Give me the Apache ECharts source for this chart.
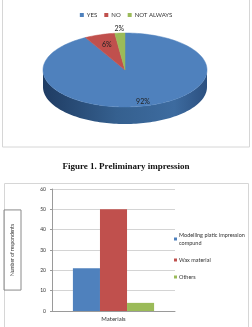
<!DOCTYPE html>
<html>
<head>
<meta charset="utf-8">
<script src="https://cdn.jsdelivr.net/npm/echarts@6/dist/echarts.min.js"></script>
<style>
html, body { margin: 0; padding: 0; background: #fff; }
#main { width: 252px; height: 327px; }
</style>
</head>
<body>
<div id="main"></div>
<script>
// pie: preliminary impression
var pieNames = ['YES', 'NO', 'NOT ALWAYS'];
var pieValues = [92, 6, 2];
var pieColors = ['#4f81bd', '#c0504d', '#9bbb59'];

// bars: materials used
var barCategories = ['Materials'];
var barNames = ['Modelling platic impression compund', 'Wax material', 'Others'];
var barValues = [[21], [50], [4]];
var yTicks = [0, 10, 20, 30, 40, 50, 60];

var CX = 125, CY = 70, RX = 82, RY = 37, DEPTH = 17;
var total = 0, cum = [0];
for (var k = 0; k < pieValues.length; k++) {
    total += pieValues[k];
    cum.push(total);
}

function pt(a, dy) {
    return [CX + RX * Math.sin(a), CY - RY * Math.cos(a) + (dy || 0)];
}

function arc(a0, a1, dy) {
    var pts = [];
    var n = Math.max(2, Math.ceil((a1 - a0) / 0.03));
    for (var j = 0; j <= n; j++) {
        pts.push(pt(a0 + (a1 - a0) * j / n, dy));
    }
    return pts;
}

function sliceRenderer(i) {
    return function (params, api) {
        var a0 = cum[i] / total * Math.PI * 2;
        var a1 = cum[i + 1] / total * Math.PI * 2;
        var children = [];
        // visible side wall (front half)
        var s0 = Math.max(a0, Math.PI / 2), s1 = Math.min(a1, Math.PI * 1.5);
        if (s1 > s0) {
            var side = arc(s0, s1, 0).concat(arc(s0, s1, DEPTH).reverse());
            children.push({
                type: 'polygon',
                shape: { points: side },
                style: {
                    fill: new echarts.graphic.LinearGradient(0, 0, 1, 0, [
                        { offset: 0, color: '#1f3c63' },
                        { offset: 0.45, color: '#35608f' },
                        { offset: 0.8, color: '#3d6b9f' },
                        { offset: 1, color: '#2c5080' }
                    ])
                }
            });
        }
        var top = [[CX, CY]].concat(arc(a0, a1, 0));
        children.push({
            type: 'polygon',
            shape: { points: top },
            style: { fill: pieColors[i], stroke: pieColors[i], lineWidth: 0.5 }
        });
        var v = pieValues[i];
        var f = v < 4 ? 1.12 : (v < 50 ? 0.72 : 0.88);
        var mid = (a0 + a1) / 2;
        children.push({
            type: 'text',
            style: {
                x: CX + RX * f * Math.sin(mid),
                y: CY - RY * f * Math.cos(mid),
                text: Math.round(v / total * 100) + '%',
                fill: '#222',
                font: '7px Lato',
                align: 'center',
                verticalAlign: 'middle'
            }
        });
        return { type: 'group', children: children };
    };
}

var series = [];
for (var i = 0; i < pieNames.length; i++) {
    series.push({
        name: pieNames[i],
        type: 'custom',
        coordinateSystem: 'none',
        itemStyle: { color: pieColors[i] },
        renderItem: sliceRenderer(i),
        data: [0],
        silent: true
    });
}
for (var b = 0; b < barNames.length; b++) {
    series.push({
        name: barNames[b],
        type: 'bar',
        barGap: '0%',
        barCategoryGap: '34%',
        itemStyle: { color: pieColors[b] },
        data: barValues[b]
    });
}

var chart = echarts.init(document.getElementById('main'));
var option = {
    animation: false,
    textStyle: { fontFamily: 'Lato' },
    title: {
        text: 'Figure 1. Preliminary impression',
        left: 'center',
        top: 157,
        textStyle: { fontFamily: 'Liberation Serif', fontWeight: 'bold', fontSize: 9, color: '#111' }
    },
    graphic: [
        { type: 'rect', shape: { x: 2.5, y: -1, width: 247, height: 148 }, style: { fill: 'none', stroke: '#d6d6d6', lineWidth: 1 } },
        { type: 'rect', shape: { x: 4.5, y: 183.5, width: 244, height: 160 }, style: { fill: 'none', stroke: '#d6d6d6', lineWidth: 1 } }
    ],
    legend: [
        {
            data: pieNames,
            top: 7,
            left: 'center',
            itemWidth: 4,
            itemHeight: 4,
            itemGap: 7,
            icon: 'rect',
            textStyle: { fontSize: 6, color: '#333', padding: [0, 0, 0, -2] }
        },
        {
            data: barNames,
            orient: 'vertical',
            left: 169,
            top: 226,
            itemWidth: 3,
            itemHeight: 3,
            itemGap: 9,
            icon: 'rect',
            textStyle: { fontSize: 5.5, color: '#333', width: 68, overflow: 'break', lineHeight: 8, padding: [0, 0, 0, -3] }
        }
    ],
    grid: { left: 52, right: 77, top: 189, bottom: 16 },
    xAxis: {
        type: 'category',
        data: barCategories,
        axisTick: { show: false },
        axisLine: { lineStyle: { color: '#9a9a9a' } },
        axisLabel: { fontSize: 6, color: '#333', margin: 5 }
    },
    yAxis: {
        type: 'value',
        min: yTicks[0],
        max: yTicks[yTicks.length - 1],
        interval: 10,
        name: 'Number of respondents',
        nameLocation: 'middle',
        nameRotate: 90,
        nameGap: 31,
        nameTextStyle: {
            fontSize: 5,
            color: '#333',
            borderColor: '#8a8a8a',
            borderWidth: 1,
            padding: [6, 14, 6, 14]
        },
        axisLine: { show: true, lineStyle: { color: '#9a9a9a' } },
        axisTick: { show: true, length: 2, lineStyle: { color: '#9a9a9a' } },
        axisLabel: { fontSize: 5, color: '#333', margin: 6 },
        splitLine: { lineStyle: { color: '#d4d4d4' } }
    },
    series: series
};
chart.setOption(option);
</script>
</body>
</html>
